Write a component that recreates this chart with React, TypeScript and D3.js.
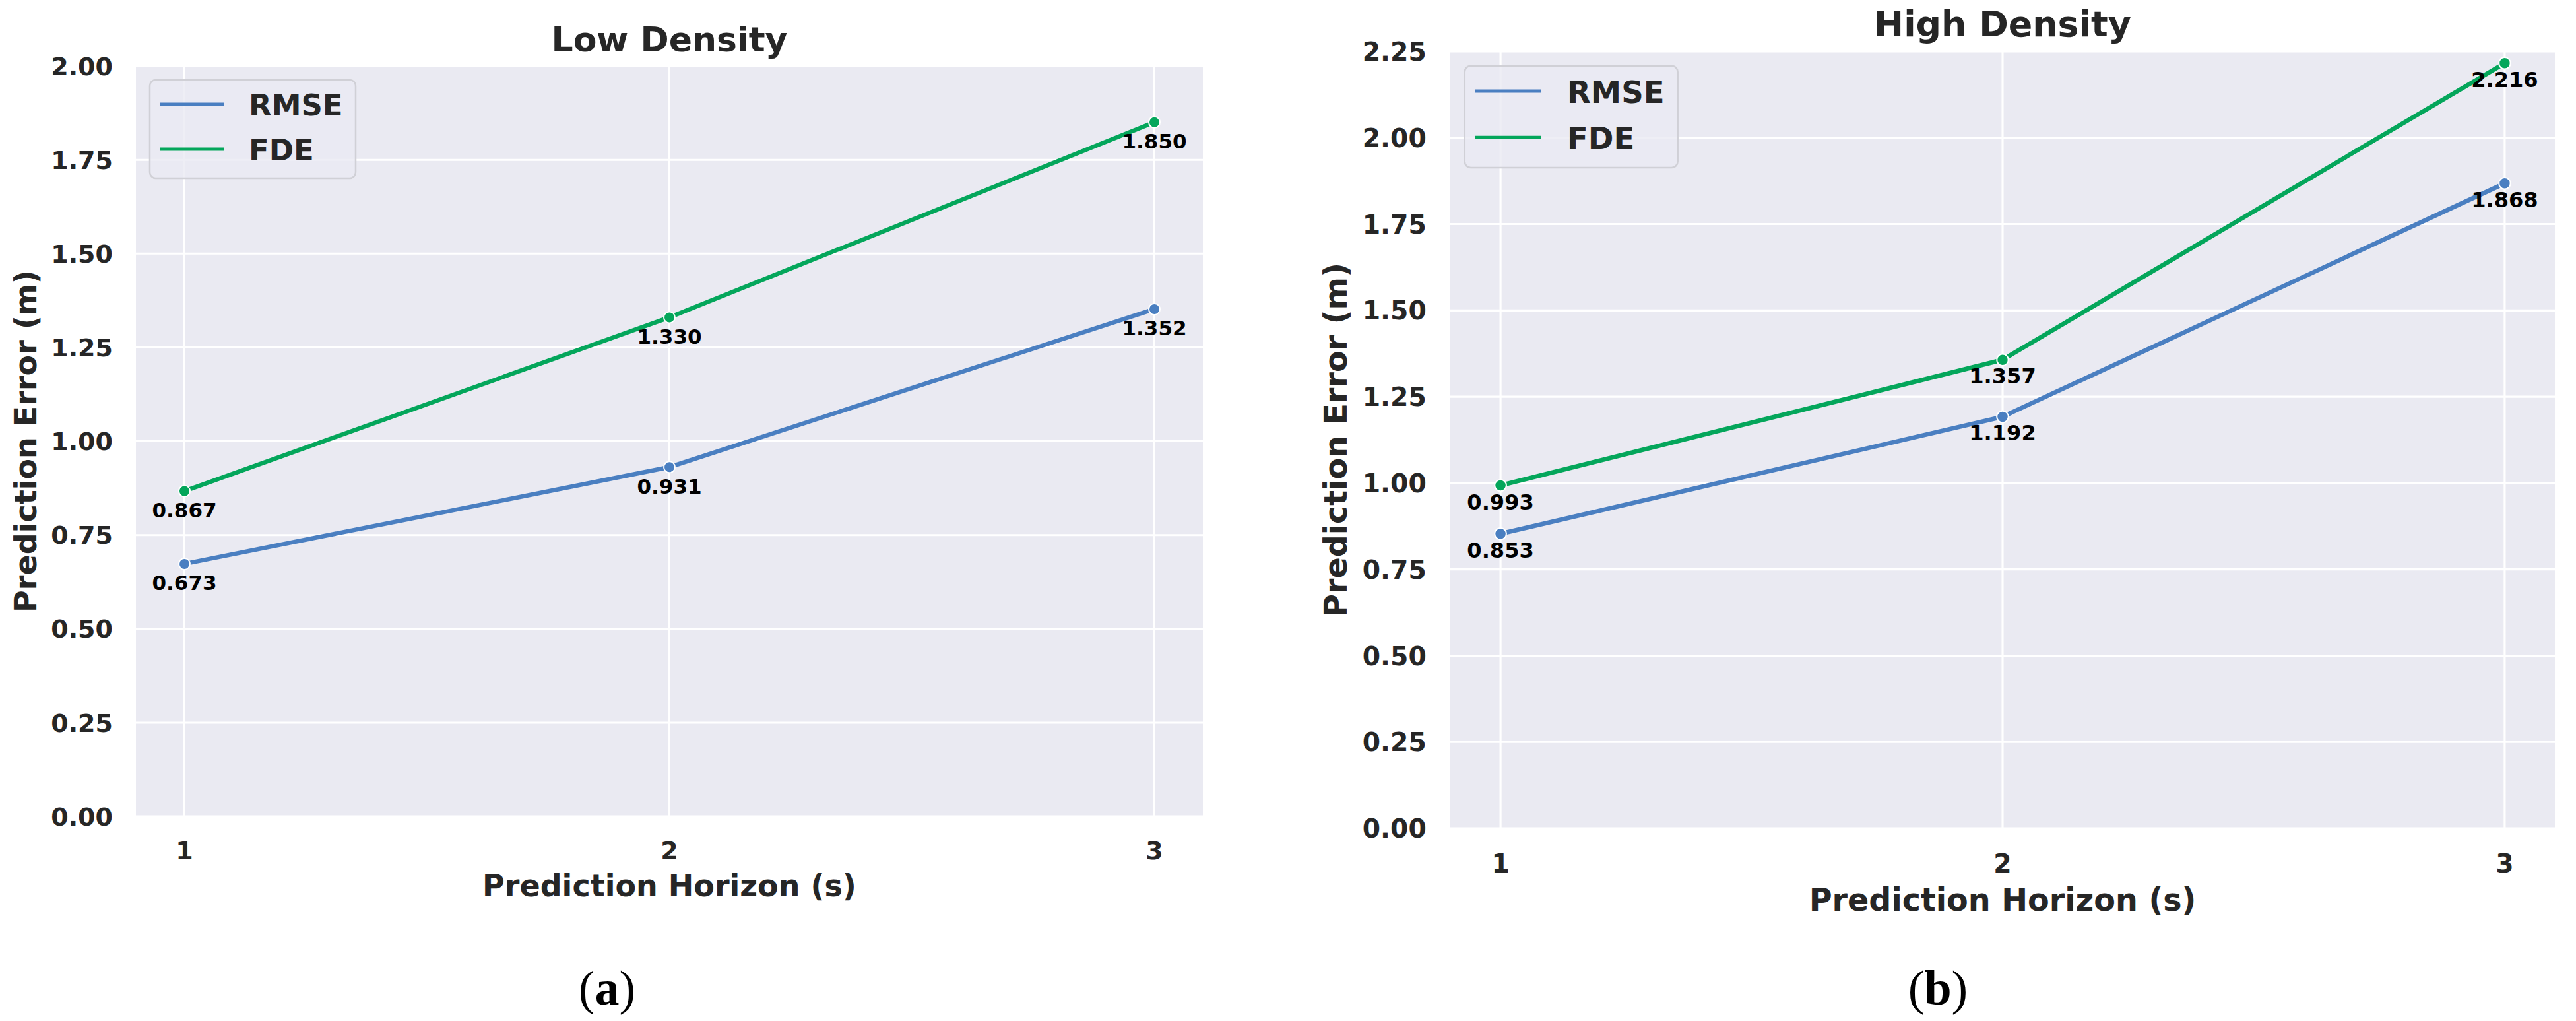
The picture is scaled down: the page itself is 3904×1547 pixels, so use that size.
import * as d3 from "d3";

const horizons = [1, 2, 3];
const lowRmse = [0.673, 0.931, 1.352];
const lowFde = [0.867, 1.33, 1.85];
const highRmse = [0.853, 1.192, 1.868];
const highFde = [0.993, 1.357, 2.216];
const lowYTicks = [0, 0.25, 0.5, 0.75, 1.0, 1.25, 1.5, 1.75, 2.0];
const highYTicks = [0, 0.25, 0.5, 0.75, 1.0, 1.25, 1.5, 1.75, 2.0, 2.25];
const seriesNames = ["RMSE", "FDE"];
const seriesColors = ["#4a7fc1", "#04a65b"];

const FONT = "'DejaVu Sans', Verdana, sans-serif";
const TEXT = "#262626";

interface PanelProps {
  title: string;
  caption: string;
  captionX: number;
  rmse: number[];
  fde: number[];
  yTicks: number[];
  yMax: number;
  left: number;
  right: number;
  top: number;
  bottom: number;
  s: number;
  labelDy: number;
}

function Panel(p: PanelProps) {
  const { s } = p;
  const x = d3.scaleLinear().domain([0.9, 3.1]).range([p.left, p.right]);
  const y = d3.scaleLinear().domain([0, p.yMax]).range([p.bottom, p.top]);
  const line = d3
    .line<number>()
    .x((_d, i) => x(horizons[i]))
    .y((d) => y(d));
  const cx = (p.left + p.right) / 2;
  const cy = (p.top + p.bottom) / 2;
  const series = [p.rmse, p.fde];
  const legX = p.left + 21 * s;
  const legY = p.top + 21 * s;

  return (
    <g>
      <rect x={p.left} y={p.top} width={p.right - p.left} height={p.bottom - p.top} fill="#eaeaf2" />
      {p.yTicks.map((t) => (
        <line key={"gy" + t} x1={p.left} x2={p.right} y1={y(t)} y2={y(t)} stroke="#fff" strokeWidth={3 * s} />
      ))}
      {horizons.map((t) => (
        <line key={"gx" + t} x1={x(t)} x2={x(t)} y1={p.top} y2={p.bottom} stroke="#fff" strokeWidth={3 * s} />
      ))}

      {series.map((vals, k) => (
        <path key={"l" + k} d={line(vals) ?? ""} fill="none" stroke={seriesColors[k]} strokeWidth={6.5 * s} strokeLinejoin="round" />
      ))}
      {series.map((vals, k) =>
        vals.map((v, i) => (
          <circle key={"m" + k + i} cx={x(horizons[i])} cy={y(v)} r={8.5 * s} fill={seriesColors[k]} stroke="#fff" strokeWidth={2 * s} />
        ))
      )}
      {series.map((vals, k) =>
        vals.map((v, i) => (
          <text
            key={"a" + k + i}
            x={x(horizons[i])}
            y={y(v) + p.labelDy}
            textAnchor="middle"
            fontFamily={FONT}
            fontWeight="bold"
            fontSize={31 * s}
            fill="#000"
          >
            {v.toFixed(3)}
          </text>
        ))
      )}

      {/* legend */}
      <rect
        x={legX}
        y={legY}
        width={312 * s}
        height={149 * s}
        rx={9 * s}
        fill="#eaeaf2"
        fillOpacity={0.8}
        stroke="#d0d0d6"
        strokeWidth={2.5 * s}
      />
      {seriesNames.map((name, k) => {
        const ry = legY + (37 + 68 * k) * s;
        return (
          <g key={"lg" + k}>
            <line x1={legX + 15 * s} x2={legX + 112 * s} y1={ry} y2={ry} stroke={seriesColors[k]} strokeWidth={5 * s} />
            <text x={legX + 150 * s} y={ry + 17 * s} fontFamily={FONT} fontWeight="bold" fontSize={45 * s} fill={TEXT}>
              {name}
            </text>
          </g>
        );
      })}

      {/* axes text */}
      {p.yTicks.map((t) => (
        <text
          key={"ty" + t}
          x={p.left - 35 * s}
          y={y(t)}
          dy="0.36em"
          textAnchor="end"
          fontFamily={FONT}
          fontWeight="bold"
          fontSize={38 * s}
          fill={TEXT}
        >
          {t.toFixed(2)}
        </text>
      ))}
      {horizons.map((t) => (
        <text
          key={"tx" + t}
          x={x(t)}
          y={p.bottom + 65 * s}
          textAnchor="middle"
          fontFamily={FONT}
          fontWeight="bold"
          fontSize={38 * s}
          fill={TEXT}
        >
          {t}
        </text>
      ))}
      <text x={cx} y={p.bottom + 121 * s} textAnchor="middle" fontFamily={FONT} fontWeight="bold" fontSize={46 * s} fill={TEXT}>
        Prediction Horizon (s)
      </text>
      <text
        transform={`translate(${p.left - 168 * s},${cy}) rotate(-90)`}
        dy="0.36em"
        textAnchor="middle"
        fontFamily={FONT}
        fontWeight="bold"
        fontSize={46 * s}
        fill={TEXT}
      >
        Prediction Error (m)
      </text>
      <text x={cx} y={p.top - 22 * s} textAnchor="middle" fontFamily={FONT} fontWeight="bold" fontSize={52 * s} fill={TEXT}>
        {p.title}
      </text>

      <text x={p.captionX} y={1522} textAnchor="middle" fontFamily="'Liberation Serif', 'Times New Roman', serif" fontSize={74} fill="#000">
        (<tspan fontWeight="bold">{p.caption}</tspan>)
      </text>
    </g>
  );
}

export default function App() {
  return (
    <svg
      width={3904}
      height={1547}
      viewBox="0 0 3904 1547"
      style={{ position: "absolute", left: 0, top: 0, background: "#fff" }}
    >
      <rect width={3904} height={1547} fill="#fff" />
      <Panel
        title="Low Density"
        caption="a"
        captionX={920}
        rmse={lowRmse}
        fde={lowFde}
        yTicks={lowYTicks}
        yMax={2.0}
        left={206}
        right={1823}
        top={100}
        bottom={1237}
        s={1}
        labelDy={40}
      />
      <Panel
        title="High Density"
        caption="b"
        captionX={2937}
        rmse={highRmse}
        fde={highFde}
        yTicks={highYTicks}
        yMax={2.25}
        left={2198}
        right={3872}
        top={78}
        bottom={1255}
        s={1.035}
        labelDy={36}
      />
    </svg>
  );
}
